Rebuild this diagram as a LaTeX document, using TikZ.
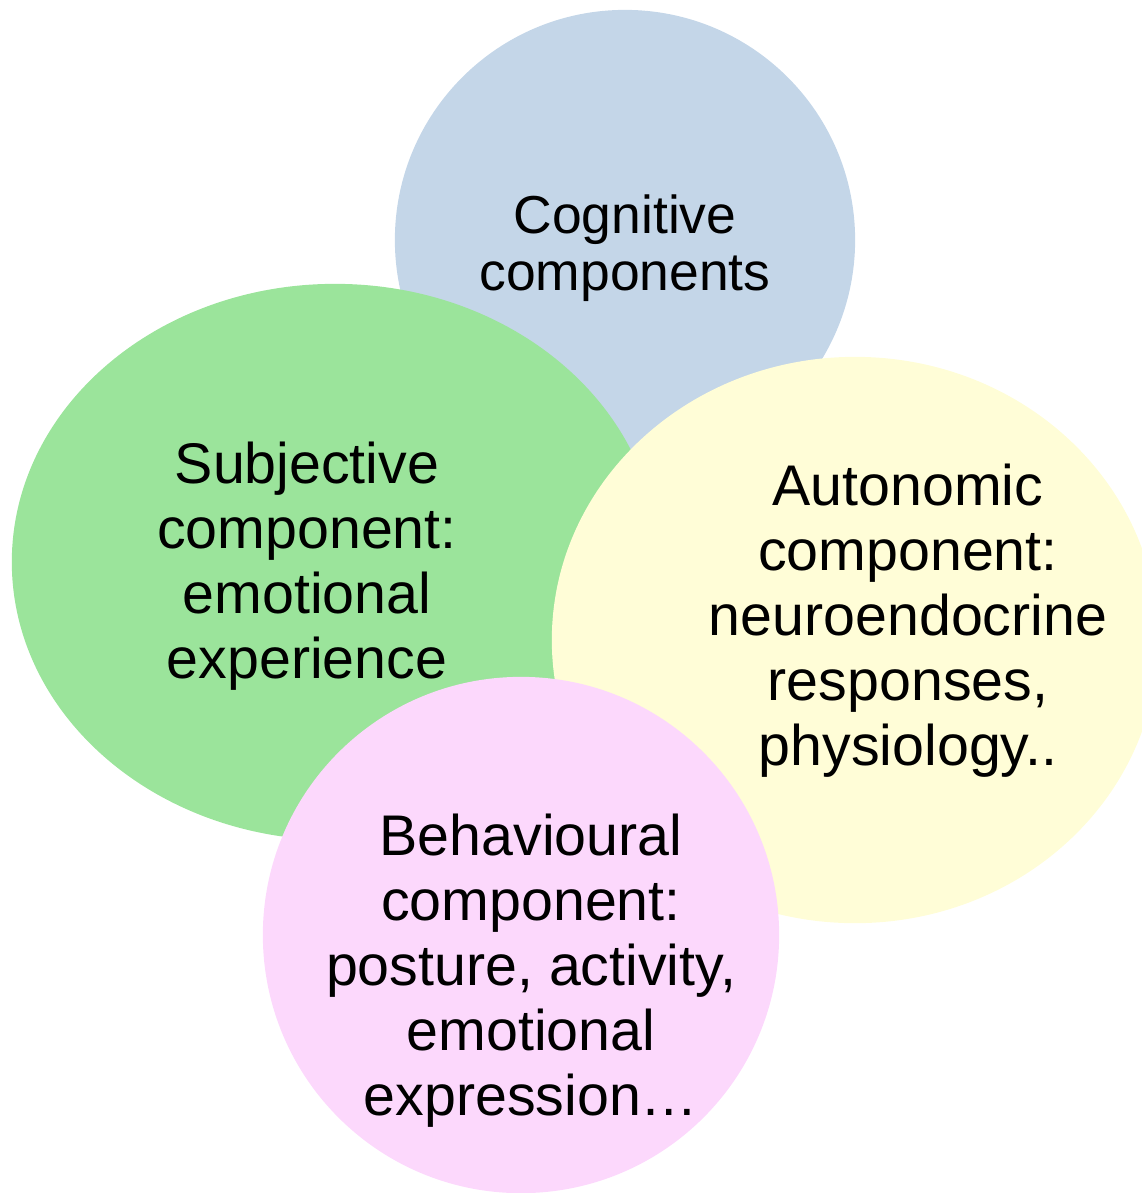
\documentclass[tikz,border=0pt]{standalone}
\usepackage{fontspec}
\setmainfont{Liberation Sans}
\usetikzlibrary{shapes.geometric}

\definecolor{cogblue}{RGB}{196,214,232}
\definecolor{subgreen}{RGB}{155,228,155}
\definecolor{autyellow}{RGB}{255,253,215}
\definecolor{behpink}{RGB}{252,216,252}

\begin{document}
\begin{tikzpicture}[x=0.01cm,y=-0.01cm,
	blob/.style={shape=ellipse,draw=none,inner sep=0pt},
	lbl/.style={align=center,text=black,font=\fontsize{16.3}{18.5}\selectfont}]
	
	\useasboundingbox (0,0) rectangle (1142,1193);
	\clip (0,0) rectangle (1142,1193);
	
	\node[blob,fill=cogblue,minimum width=4.6cm,minimum height=4.6cm]     (cog) at (625, 240) {};
	\node[blob,fill=subgreen,minimum width=6.46cm,minimum height=5.56cm]  (sub) at (335, 562) {};
	\node[blob,fill=autyellow,minimum width=6.06cm,minimum height=5.66cm] (aut) at (855, 640) {};
	\node[blob,fill=behpink,minimum width=5.16cm,minimum height=5.16cm]   (beh) at (521, 935) {};
	
	\node[lbl,font=\fontsize{15.2}{16.2}\selectfont] (cogtext) at (625, 248) {Cognitive\\components};
	\node[lbl] (subtext) at (307, 566) {Subjective\\component:\\emotional\\experience};
	\node[lbl] (auttext) at (908, 621) {Autonomic\\component:\\neuroendocrine\\responses,\\physiology..};
	\node[lbl] (behtext) at (531, 971) {Behavioural\\component:\\posture, activity,\\emotional\\expression\ldots};
\end{tikzpicture}
\end{document}
